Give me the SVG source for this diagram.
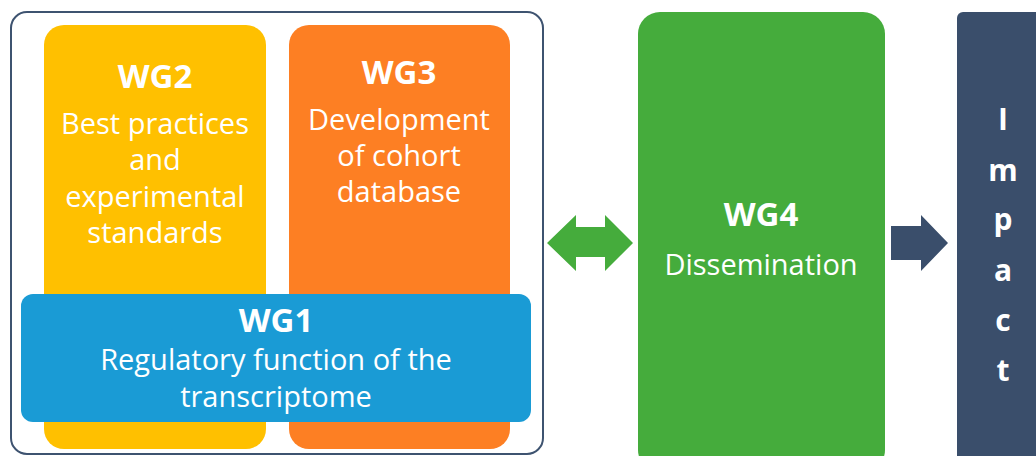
<svg xmlns="http://www.w3.org/2000/svg" width="1036" height="456" viewBox="0 0 1036 456">
<style>
text{font-family:"Open Sans","Liberation Sans",sans-serif;fill:#ffffff;text-anchor:middle}
.t{font-size:33px;font-weight:bold}
.b{font-size:29px}
.i{font-size:30px;font-weight:bold}
</style>
<rect width="1036" height="456" fill="#ffffff"/>
<g id="outer">
<rect x="11" y="12" width="532" height="442" rx="16" fill="#ffffff" stroke="#3E5370" stroke-width="2"/>
</g>
<g id="wg2">
<rect x="44" y="25" width="222" height="424" rx="20" fill="#FFC000"/>
<text class="t" x="155" y="88">WG2</text>
<text class="b" x="155" y="134">Best practices</text>
<text class="b" x="155" y="170">and</text>
<text class="b" x="155" y="207">experimental</text>
<text class="b" x="155" y="243">standards</text>
</g>
<g id="wg3">
<rect x="289" y="25" width="221" height="424" rx="20" fill="#FD7F23"/>
<text class="t" x="399" y="84">WG3</text>
<text class="b" x="399" y="130">Development</text>
<text class="b" x="399" y="166">of cohort</text>
<text class="b" x="399" y="202">database</text>
</g>
<g id="wg1">
<rect x="21" y="294" width="510" height="128" rx="12" fill="#1A9BD5"/>
<text class="t" x="276" y="332">WG1</text>
<text class="b" x="276" y="370">Regulatory function of the</text>
<text class="b" x="276" y="407">transcriptome</text>
</g>
<g id="wg4">
<rect x="638" y="12" width="247" height="460" rx="22" fill="#45AC3C"/>
<text class="t" x="761" y="226">WG4</text>
<text class="b" x="761" y="275">Dissemination</text>
</g>
<g id="impact">
<rect x="957" y="12" width="100" height="460" rx="6" fill="#3A4E6B"/>
<text class="i" x="1003" y="130">I</text>
<text class="i" x="1003" y="181">m</text>
<text class="i" x="1003" y="230">p</text>
<text class="i" x="1003" y="281">a</text>
<text class="i" x="1003" y="331">c</text>
<text class="i" x="1003" y="381">t</text>
</g>
<g id="connectors">
<polygon points="547,243 576,215 576,227 605,227 605,215 633,243 605,271 605,257 576,257 576,271" fill="#45AC3C"/>
<polygon points="891,226 921,226 921,215 948,243 921,271 921,260 891,260" fill="#3A4E6B"/>
</g>
</svg>
